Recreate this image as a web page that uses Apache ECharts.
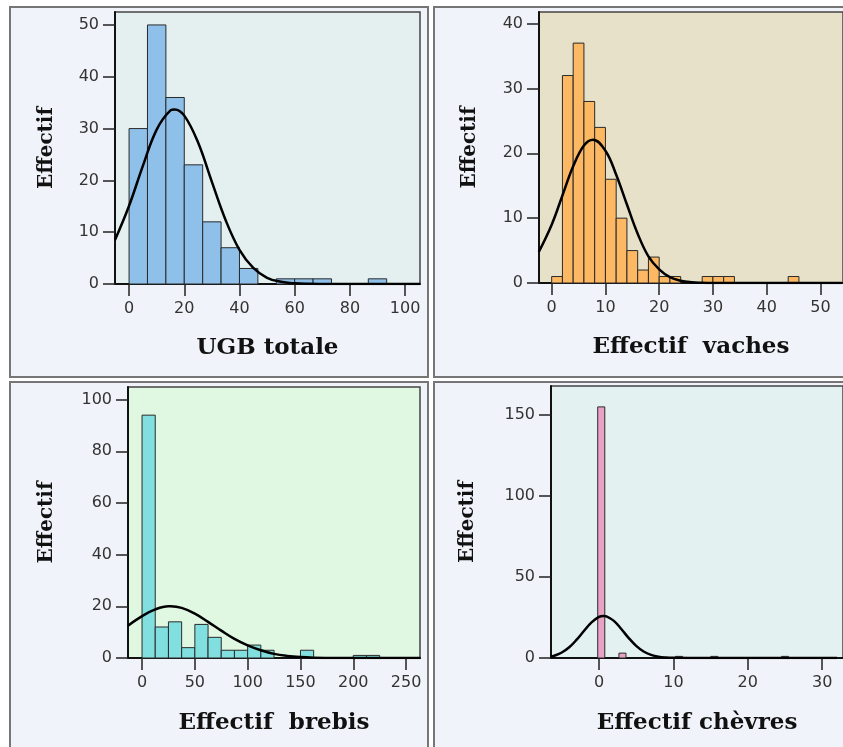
<!DOCTYPE html>
<html>
<head>
<meta charset="utf-8">
<title>Histogrammes effectifs</title>
<style>
  html, body { margin: 0; padding: 0; background: #fff; }
  #main { width: 843px; height: 747px; }
</style>
</head>
<body>
<div id="main"></div>
<script src="https://cdn.jsdelivr.net/npm/echarts@6.0.0/dist/echarts.min.js"></script>
<script>
// UGB totale
var ugbBinStart = 0;
var ugbBinWidth = 20 / 3;
var ugbCounts = [30, 50, 36, 23, 12, 7, 3, 0, 1, 1, 1, 0, 0, 1];
var ugbCurveX = [-5.1, 0, 5, 10, 15, 16.5, 20, 25, 30, 35, 40, 45, 50, 55, 60, 65, 70, 80, 90, 105.4];
var ugbCurveY = [8.5, 15.1, 22.8, 29.8, 33.5, 33.7, 32.5, 27.3, 19.7, 12.3, 6.6, 3.1, 1.2, 0.43, 0.13, 0.03, 0.01, 0, 0, 0];
var ugbTicksX = [0, 20, 40, 60, 80, 100];
var ugbTicksY = [0, 10, 20, 30, 40, 50];

// Effectif vaches
var cowBinStart = 0;
var cowBinWidth = 2;
var cowCounts = [1, 32, 37, 28, 24, 16, 10, 5, 2, 4, 1, 1, 0, 0, 1, 1, 1, 0, 0, 0, 0, 0, 1];
var cowCurveX = [-2.4, 0, 2, 4, 6, 7.7, 10, 12, 14, 16, 18, 20, 22, 24, 26, 28, 30, 40, 54];
var cowCurveY = [4.8, 9.0, 13.5, 18.0, 21.2, 22.1, 20.4, 16.7, 12.1, 7.6, 4.1, 2.1, 0.9, 0.35, 0.12, 0.04, 0.01, 0, 0];
var cowTicksX = [0, 10, 20, 30, 40, 50];
var cowTicksY = [0, 10, 20, 30, 40];

// Effectif brebis
var ewesBinStart = 0;
var ewesBinWidth = 12.5;
var ewesCounts = [94, 12, 14, 4, 13, 8, 3, 3, 5, 3, 0, 0, 3, 0, 0, 0, 1, 1];
var ewesCurveX = [-13.3, 0, 12.5, 25, 27, 37.5, 50, 62.5, 75, 87.5, 100, 112.5, 125, 137.5, 150, 162.5, 175, 200, 263.5];
var ewesCurveY = [12.5, 16.2, 18.8, 20.0, 20.0, 19.4, 17.2, 14.0, 10.6, 7.4, 4.9, 3.0, 1.6, 0.8, 0.35, 0.12, 0.04, 0, 0];
var ewesTicksX = [0, 50, 100, 150, 200, 250];
var ewesTicksY = [0, 20, 40, 60, 80, 100];

// Effectif chèvres
var goatBinStart = -0.17;
var goatBinWidth = 0.95;
var goatCounts = [155, 0, 0, 3, 0, 0, 0, 0, 0, 0, 0, 1, 0, 0, 0, 0, 1, 0, 0, 0, 0, 0, 0, 0, 0, 0, 1];
var goatCurveX = [-6.5, -6, -5, -4, -3, -2, -1, 0, 0.6, 1, 2, 3, 4, 5, 6, 7, 8, 9, 10, 12, 20, 32];
var goatCurveY = [0.8, 1.4, 3.4, 6.6, 11.3, 16.8, 22.0, 25.4, 26, 25.7, 22.9, 17.9, 12.3, 7.5, 4.0, 1.9, 0.76, 0.27, 0.09, 0.01, 0, 0];
var goatTicksX = [0, 10, 20, 30];
var goatTicksY = [0, 50, 100, 150];

var panels = [
  {
    title: 'UGB totale', start: ugbBinStart, width: ugbBinWidth, counts: ugbCounts,
    curveX: ugbCurveX, curveY: ugbCurveY, ticksX: ugbTicksX, ticksY: ugbTicksY,
    grid: {left: 115, top: 12, width: 305, height: 272},
    xMin: -5.1, xMax: 105.4, yMax: 52.5,
    bg: '#e3f0ef', bar: '#8ec0ea', xGap: 53, yGap: 58,
    frame: [10, 7, 418, 370]
  },
  {
    title: 'Effectif  vaches', start: cowBinStart, width: cowBinWidth, counts: cowCounts,
    curveX: cowCurveX, curveY: cowCurveY, ticksX: cowTicksX, ticksY: cowTicksY,
    grid: {left: 539, top: 12, width: 311, height: 271},
    xMin: -2.36, xMax: 54.2, yMax: 41.8,
    bg: '#e6e1c8', bar: '#fdb863', xGap: 53, yGap: 59,
    frame: [434, 7, 420, 370]
  },
  {
    title: 'Effectif  brebis', start: ewesBinStart, width: ewesBinWidth, counts: ewesCounts,
    curveX: ewesCurveX, curveY: ewesCurveY, ticksX: ewesTicksX, ticksY: ewesTicksY,
    grid: {left: 128, top: 387, width: 292, height: 271},
    xMin: -13.3, xMax: 263.2, yMax: 104.9,
    bg: '#e0f7e2', bar: '#82dfe0', xGap: 54, yGap: 71,
    frame: [10, 382, 418, 380]
  },
  {
    title: 'Effectif chèvres', start: goatBinStart, width: goatBinWidth, counts: goatCounts,
    curveX: goatCurveX, curveY: goatCurveY, ticksX: goatTicksX, ticksY: goatTicksY,
    grid: {left: 551, top: 386, width: 299, height: 272},
    xMin: -6.45, xMax: 32.8, yMax: 167.9,
    bg: '#e3f1f0', bar: '#e7a2c6', xGap: 54, yGap: 73,
    frame: [434, 382, 420, 380]
  }
];

function makeBins(start, width, counts) {
  var ret = [];
  counts.forEach(function (c, i) {
    if (c > 0) {
      ret.push([start + i * width, start + (i + 1) * width, c]);
    }
  });
  return ret;
}

function renderBar(params, api) {
  var p0 = api.coord([api.value(0), api.value(2)]);
  var p1 = api.coord([api.value(1), 0]);
  return {
    type: 'rect',
    shape: {x: p0[0], y: p0[1], width: p1[0] - p0[0], height: p1[1] - p0[1]},
    style: {fill: api.visual('color'), stroke: '#2a2a2a', lineWidth: 1}
  };
}

var titleStyle = {
  fontFamily: 'DejaVu Serif', fontWeight: 'bold', fontSize: 23, color: '#111'
};
var tickLabel = {
  fontFamily: 'DejaVu Sans', fontSize: 16, color: '#333'
};

var grids = [], xAxes = [], yAxes = [], series = [], frames = [];

panels.forEach(function (p, i) {
  grids.push({
    left: p.grid.left, top: p.grid.top, width: p.grid.width, height: p.grid.height,
    show: true, backgroundColor: p.bg, borderColor: '#444', borderWidth: 1.5
  });
  xAxes.push({
    type: 'value', gridIndex: i, min: p.xMin, max: p.xMax,
    name: p.title, nameLocation: 'middle', nameGap: p.xGap, nameTextStyle: titleStyle,
    axisLine: {onZero: false, lineStyle: {color: '#111', width: 2}},
    axisTick: {length: 12, customValues: p.ticksX, lineStyle: {color: '#222', width: 1.5}},
    axisLabel: Object.assign({customValues: p.ticksX, margin: 17}, tickLabel),
    splitLine: {show: false}
  });
  yAxes.push({
    type: 'value', gridIndex: i, min: 0, max: p.yMax,
    name: 'Effectif', nameLocation: 'middle', nameRotate: 90, nameGap: p.yGap,
    nameTextStyle: {fontFamily: 'DejaVu Serif', fontWeight: 'bold', fontSize: 20, color: '#111'},
    axisLine: {onZero: false, lineStyle: {color: '#111', width: 2}},
    axisTick: {length: 12, customValues: p.ticksY, lineStyle: {color: '#222', width: 1.5}},
    axisLabel: Object.assign({customValues: p.ticksY, margin: 16}, tickLabel),
    splitLine: {show: false}
  });
  series.push({
    type: 'custom', xAxisIndex: i, yAxisIndex: i,
    renderItem: renderBar,
    encode: {x: [0, 1], y: 2},
    itemStyle: {color: p.bar},
    data: makeBins(p.start, p.width, p.counts),
    z: 2
  });
  series.push({
    type: 'line', xAxisIndex: i, yAxisIndex: i,
    smooth: 0.4, symbol: 'none', clip: true,
    lineStyle: {color: '#000', width: 2.5},
    data: p.curveX.map(function (x, k) { return [x, p.curveY[k]]; }),
    z: 3
  });
  frames.push({
    type: 'rect', z: -10,
    shape: {x: p.frame[0], y: p.frame[1], width: p.frame[2], height: p.frame[3]},
    style: {fill: '#f0f3f9', stroke: '#767676', lineWidth: 2}
  });
});

var chart = echarts.init(document.getElementById('main'));
chart.setOption({
  backgroundColor: '#fff',
  animation: false,
  graphic: {elements: frames},
  grid: grids,
  xAxis: xAxes,
  yAxis: yAxes,
  series: series
});
</script>
</body>
</html>
